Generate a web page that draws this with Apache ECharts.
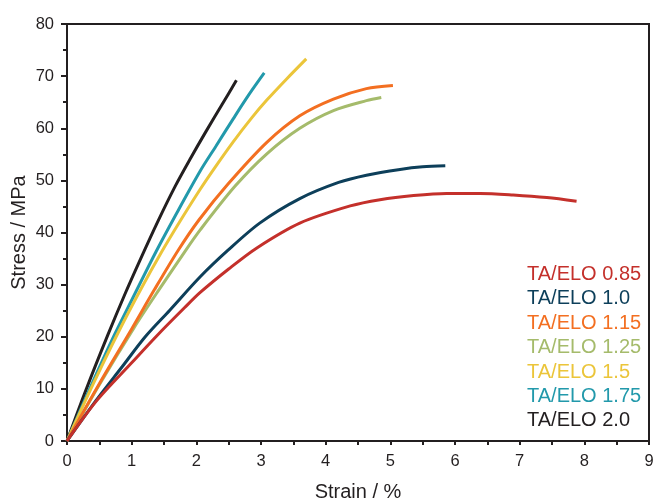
<!DOCTYPE html>
<html>
<head>
<meta charset="utf-8">
<script src="https://cdn.jsdelivr.net/npm/echarts@6/dist/echarts.min.js"></script>
<style>html,body{margin:0;padding:0;background:#fff;}#c{width:654px;height:500px;}</style>
</head>
<body>
<div id="c"></div>
<script>
// Data
var seriesNames = ['TA/ELO 0.85','TA/ELO 1.0','TA/ELO 1.15','TA/ELO 1.25','TA/ELO 1.5','TA/ELO 1.75','TA/ELO 2.0'];
var seriesColors = ['#c4302b','#0d3f5a','#f36f21','#a5bb6b','#ebc53a','#2299ab','#231f20'];

var strain085 = [0, 0.45, 1.0, 1.39, 1.82, 2.06, 2.5, 2.93, 3.6, 4.38, 4.84, 5.36, 5.87, 6.39, 6.9, 7.42, 7.88];
var stress085 = [0, 7.6, 15.0, 20.2, 25.6, 28.5, 33.0, 37.0, 41.8, 45.1, 46.3, 47.1, 47.5, 47.5, 47.2, 46.7, 46.0];

var strain100 = [0, 0.45, 0.85, 1.21, 1.59, 2.06, 2.49, 2.98, 3.6, 4.2, 4.63, 5.15, 5.5, 5.85];
var stress100 = [0, 7.8, 14.2, 20, 25.1, 31.5, 36.6, 41.8, 46.5, 49.6, 51.0, 52.1, 52.6, 52.8];

var strain115 = [0, 0.5, 1.0, 1.35, 1.72, 2.04, 2.49, 3.09, 3.6, 4.12, 4.63, 5.04];
var stress115 = [0, 11, 21.5, 29, 36.6, 42.4, 49.3, 57.3, 62.4, 65.6, 67.6, 68.2];

var strain125 = [0, 0.5, 1.04, 1.4, 1.82, 2.06, 2.6, 3.09, 3.6, 4.12, 4.63, 4.86];
var stress125 = [0, 10.8, 21.8, 28.6, 36.3, 40.5, 48.9, 55.1, 60.0, 63.4, 65.3, 65.9];

var strain150 = [0, 0.4, 0.8, 1.15, 1.46, 1.75, 2.06, 2.3, 2.57, 2.85, 3.09, 3.4, 3.7];
var stress150 = [0, 10.8, 21, 29.3, 36.2, 42.2, 48.3, 52.7, 57.4, 61.9, 65.4, 69.5, 73.3];

var strain175 = [0, 0.35, 0.7, 1.0, 1.38, 1.7, 2.06, 2.3, 2.57, 2.8, 3.05];
var stress175 = [0, 10, 19.5, 27, 36.4, 43.8, 51.8, 56.5, 61.8, 66.2, 70.6];

var strain200 = [0, 0.3, 0.63, 0.9, 1.14, 1.4, 1.67, 1.9, 2.15, 2.4, 2.62];
var stress200 = [0, 10, 20.3, 28.3, 35, 42, 48.8, 54.0, 59.4, 64.6, 69.2];

var xTicks = {min: 0, max: 9, interval: 1};
var yTicks = {min: 0, max: 80, interval: 10};

function pairs(xs, ys) { return xs.map(function (x, i) { return [x, ys[i]]; }); }
var allData = [
  pairs(strain085, stress085),
  pairs(strain100, stress100),
  pairs(strain115, stress115),
  pairs(strain125, stress125),
  pairs(strain150, stress150),
  pairs(strain175, stress175),
  pairs(strain200, stress200)
];

var axisColor = '#231f20';
var font = 'Liberation Sans, Arial, sans-serif';

var chart = echarts.init(document.getElementById('c'), null, {renderer: 'canvas'});
chart.setOption({
  animation: false,
  backgroundColor: '#ffffff',
  grid: {left: 67, right: 5, top: 24, bottom: 59, show: true, borderColor: axisColor, borderWidth: 2,
         containLabel: false, outerBoundsMode: 'none'},
  legend: {
    orient: 'vertical',
    left: 517,
    top: 259,
    icon: 'none',
    itemWidth: 0,
    itemHeight: 14,
    itemGap: 3.4,
    selectedMode: false,
    textStyle: {fontSize: 20, fontFamily: font, lineHeight: 21},
    data: seriesNames.map(function (n, i) { return {name: n, textStyle: {color: seriesColors[i]}}; })
  },
  xAxis: {
    type: 'value',
    min: xTicks.min, max: xTicks.max, interval: xTicks.interval,
    name: 'Strain / %',
    nameLocation: 'middle',
    nameGap: 51,
    nameMoveOverlap: false,
    nameTextStyle: {fontSize: 20, color: axisColor, fontFamily: font, verticalAlign: 'middle'},
    axisLine: {onZero: false, lineStyle: {color: axisColor, width: 2}},
    axisTick: {show: true, inside: false, length: 4, lineStyle: {color: axisColor, width: 2}},
    minorTick: {show: true, splitNumber: 2, length: 4, lineStyle: {color: axisColor, width: 2}},
    axisLabel: {fontSize: 16.5, color: axisColor, fontFamily: font, margin: 12},
    splitLine: {show: false}
  },
  yAxis: {
    type: 'value',
    min: yTicks.min, max: yTicks.max, interval: yTicks.interval,
    name: 'Stress / MPa',
    nameLocation: 'middle',
    nameGap: 48,
    nameMoveOverlap: false,
    nameTextStyle: {fontSize: 20, color: axisColor, fontFamily: font, verticalAlign: 'middle'},
    axisLine: {onZero: false, lineStyle: {color: axisColor, width: 2}},
    axisTick: {show: true, inside: false, length: 6, lineStyle: {color: axisColor, width: 2}},
    minorTick: {show: true, splitNumber: 2, length: 4, lineStyle: {color: axisColor, width: 2}},
    axisLabel: {fontSize: 16.5, color: axisColor, fontFamily: font, margin: 13},
    splitLine: {show: false}
  },
  series: seriesNames.map(function (n, i) {
    return {
      name: n,
      type: 'line',
      data: allData[i],
      showSymbol: false,
      smooth: 0.3,
      lineStyle: {color: seriesColors[i], width: 3},
      itemStyle: {color: seriesColors[i]},
      z: 2 + (seriesNames.length - i)
    };
  })
});
</script>
</body>
</html>
